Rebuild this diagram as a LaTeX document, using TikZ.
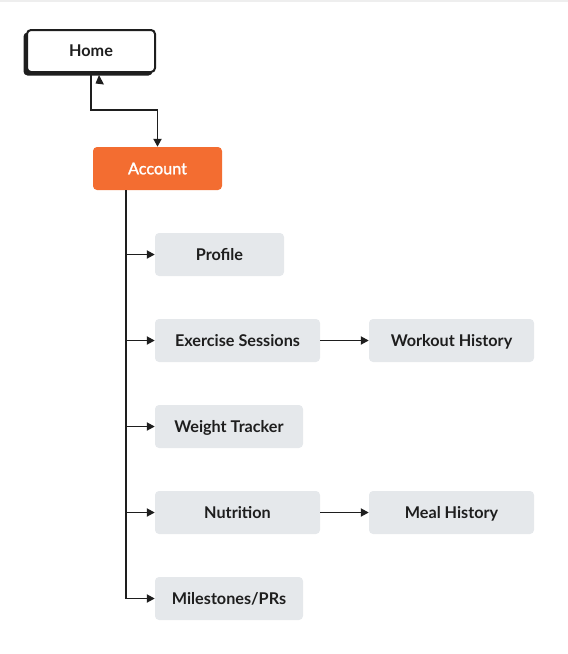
\documentclass[tikz,border=0pt]{standalone}
\usepackage{fontspec}
\setmainfont{Lato}
\newfontfamily\acfont[FakeBold=1.5]{Lato}
\usetikzlibrary{arrows.meta}
\definecolor{ink}{HTML}{1E1E1E}
\definecolor{boxgray}{HTML}{E5E8EB}
\definecolor{accent}{HTML}{F36D31}
\definecolor{topline}{HTML}{EEEEEE}
\begin{document}
\begin{tikzpicture}[x=1pt,y=-1pt,
  base/.style={rounded corners=4pt, inner sep=0pt, text height=11.6pt, text depth=0pt, font=\fontsize{16.2}{19}\selectfont\bfseries},
  child/.style={base, fill=boxgray, text=ink},
  conn/.style={draw=ink, line width=1.9pt, -{Triangle[length=8pt,width=8pt]}}]
\useasboundingbox (0,0) rectangle (568,654);
\fill[topline] (0,0) rectangle (568,2);
% Home with shadow
\fill[ink, rounded corners=4pt] (23.5,32.5) rectangle (152.5,75.5);
\node[base, draw=ink, line width=2pt, fill=white, text=ink, minimum width=128pt, minimum height=42pt] (home) at (91,51) {Home};
\node[base, fill=accent, text=white, font=\fontsize{16.2}{19}\acfont, minimum width=129pt, minimum height=43pt] (acc) at (157.5,168.5) {Account};
\node[child, minimum width=129pt, minimum height=43pt] (profile) at (219.5,254.5) {Profile};
\node[child, minimum width=165pt, minimum height=43pt] (ex) at (237.5,340.5) {Exercise Sessions};
\node[child, minimum width=148pt, minimum height=43pt] (wt) at (229,426.5) {Weight Tracker};
\node[child, minimum width=165pt, minimum height=43pt] (nut) at (237.5,512.5) {Nutrition};
\node[child, minimum width=148pt, minimum height=43pt] (ms) at (229,598.5) {Milestones/PRs};
\node[child, minimum width=165pt, minimum height=43pt] (wh) at (451.5,340.5) {Workout History};
\node[child, minimum width=165pt, minimum height=43pt] (mh) at (451.5,512.5) {Meal History};
\coordinate (trunk) at (126,190);
\draw[conn] (home.south -| 91,0) -- (91,110) -| (acc.north);
\fill[ink] (99,75) -- (104,84.5) -- (95.5,83.5) -- cycle;
\draw[ink, line width=1.9pt] (trunk) -- (126,599.45);
\foreach \n in {profile,ex,wt,nut,ms}{
  \draw[conn] (trunk |- \n.west) -- (\n.west);
}
\draw[conn] (ex) -- (wh);
\draw[conn] (nut) -- (mh);
\end{tikzpicture}
\end{document}
